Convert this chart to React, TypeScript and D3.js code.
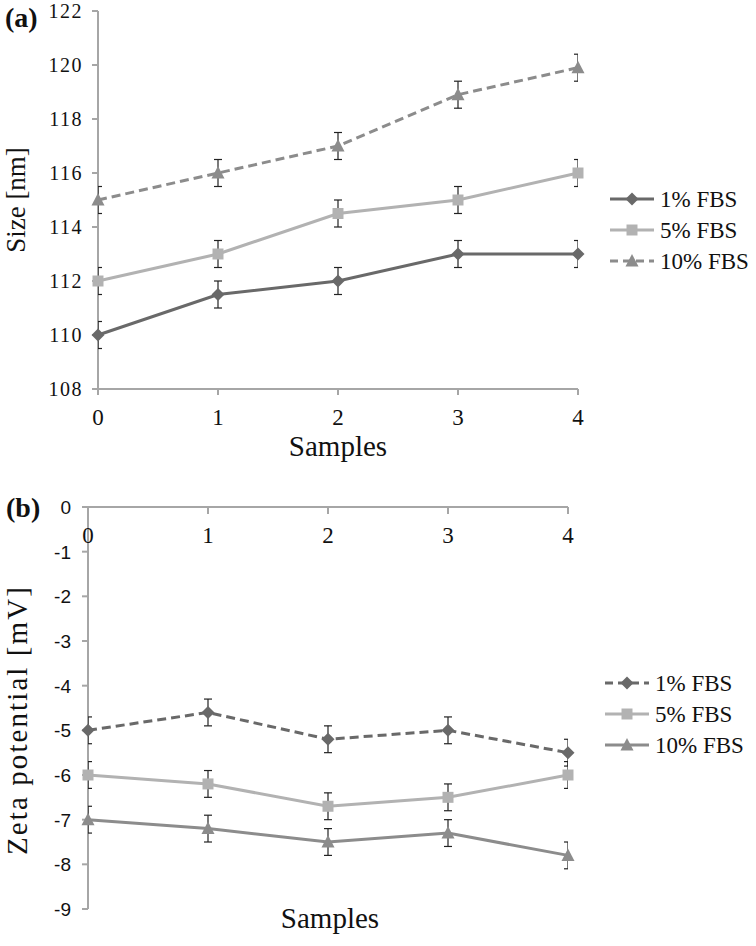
import React, { useEffect, useRef } from 'react';
import * as d3 from 'd3';

const samples = [0, 1, 2, 3, 4];
const seriesNames = ['1% FBS', '5% FBS', '10% FBS'];

// panel (a) - size in nm
const size1 = [110, 111.5, 112, 113, 113];
const size5 = [112, 113, 114.5, 115, 116];
const size10 = [115, 116, 117, 118.9, 119.9];
const sizeErr = [0.5, 0.5, 0.5, 0.5, 0.5];
const sizeTicks = [108, 110, 112, 114, 116, 118, 120, 122];

// panel (b) - zeta potential in mV
const zeta1 = [-5, -4.6, -5.2, -5, -5.5];
const zeta5 = [-6, -6.2, -6.7, -6.5, -6];
const zeta10 = [-7, -7.2, -7.5, -7.3, -7.8];
const zetaErr = [0.3, 0.3, 0.3, 0.3, 0.3];
const zetaTicks = [0, -1, -2, -3, -4, -5, -6, -7, -8, -9];

const serif = '"Liberation Serif", "Times New Roman", serif';
const sans = '"Liberation Sans", Arial, sans-serif';
const axisColor = '#a6a6a6';
const textColor = '#111';

const App = () => {
  const ref = useRef<SVGSVGElement>(null);

  useEffect(() => {
    const svg = d3.select(ref.current);
    svg.selectAll('*').remove();

    const markerPath = (shape: string) => {
      if (shape === 'diamond') return 'M0,-6.5L6.5,0L0,6.5L-6.5,0Z';
      if (shape === 'square') return 'M-5.5,-5.5H5.5V5.5H-5.5Z';
      return 'M0,-7L6.5,5.5H-6.5Z';
    };

    const drawPanel = (opts: any) => {
      const { x, y, series, err, id } = opts;
      const g = svg.append('g');

      // error bar caps get cut at the plot edges, like in the original
      g.append('defs')
        .append('clipPath')
        .attr('id', id)
        .append('rect')
        .attr('x', x(0))
        .attr('y', 0)
        .attr('width', x(4) - x(0))
        .attr('height', 946);

      series.forEach((s: any) => {
        const eg = g.append('g').attr('clip-path', `url(#${id})`);
        s.values.forEach((v: number, i: number) => {
          const cx = x(samples[i]);
          const yt = y(v + err[i]);
          const yb = y(v - err[i]);
          eg.append('line').attr('x1', cx).attr('x2', cx).attr('y1', yt).attr('y2', yb)
            .attr('stroke', '#222').attr('stroke-width', 1.2);
          [yt, yb].forEach((yy) => {
            eg.append('line').attr('x1', cx - 4).attr('x2', cx + 4).attr('y1', yy).attr('y2', yy)
              .attr('stroke', '#222').attr('stroke-width', 1.2);
          });
        });
      });

      const line = d3.line<number>().x((d, i) => x(samples[i])).y((d) => y(d));

      series.forEach((s: any) => {
        g.append('path')
          .attr('d', line(s.values))
          .attr('fill', 'none')
          .attr('stroke', s.color)
          .attr('stroke-width', 3)
          .attr('stroke-dasharray', s.dashed ? '9,5' : null);
        s.values.forEach((v: number, i: number) => {
          g.append('path')
            .attr('d', markerPath(s.shape))
            .attr('transform', `translate(${x(samples[i])},${y(v)})`)
            .attr('fill', s.color);
        });
      });

      // legend
      series.forEach((s: any, k: number) => {
        const ly = opts.legendY + k * 31;
        const lx = opts.legendX;
        g.append('line')
          .attr('x1', lx).attr('x2', lx + 44).attr('y1', ly).attr('y2', ly)
          .attr('stroke', s.color).attr('stroke-width', 3)
          .attr('stroke-dasharray', s.dashed ? '8,5' : null);
        g.append('path')
          .attr('d', markerPath(s.shape))
          .attr('transform', `translate(${lx + 22},${ly})`)
          .attr('fill', s.color);
        g.append('text')
          .attr('x', lx + 50).attr('y', ly + 8)
          .attr('font-family', serif).attr('font-size', 23).attr('fill', textColor)
          .text(s.name);
      });
    };

    // ---------- panel (a) ----------
    const xa = d3.scaleLinear().domain([0, 4]).range([98, 578]);
    const ya = d3.scaleLinear().domain([108, 122]).range([389, 11]);
    const ga = svg.append('g');
    ga.append('line').attr('x1', xa(0)).attr('x2', xa(0)).attr('y1', ya(122)).attr('y2', ya(108))
      .attr('stroke', axisColor).attr('stroke-width', 2);
    ga.append('line').attr('x1', xa(0)).attr('x2', xa(4)).attr('y1', ya(108)).attr('y2', ya(108))
      .attr('stroke', axisColor).attr('stroke-width', 2);
    sizeTicks.forEach((t) => {
      ga.append('line').attr('x1', xa(0) - 6).attr('x2', xa(0)).attr('y1', ya(t)).attr('y2', ya(t))
        .attr('stroke', axisColor).attr('stroke-width', 2);
      ga.append('text').attr('x', xa(0) - 15).attr('y', ya(t) + 7).attr('text-anchor', 'end')
        .attr('font-family', serif).attr('font-size', 20).attr('letter-spacing', 1.5)
        .attr('fill', textColor).text(t);
    });
    samples.forEach((s) => {
      ga.append('line').attr('x1', xa(s)).attr('x2', xa(s)).attr('y1', ya(108)).attr('y2', ya(108) + 6)
        .attr('stroke', axisColor).attr('stroke-width', 2);
      ga.append('text').attr('x', xa(s)).attr('y', 425).attr('text-anchor', 'middle')
        .attr('font-family', serif).attr('font-size', 23).attr('fill', textColor).text(s);
    });
    ga.append('text').attr('x', 338).attr('y', 456).attr('text-anchor', 'middle')
      .attr('font-family', serif).attr('font-size', 29).attr('fill', textColor).text('Samples');
    ga.append('text').attr('transform', 'translate(25,200) rotate(-90)').attr('text-anchor', 'middle')
      .attr('font-family', serif).attr('font-size', 27).attr('fill', textColor).text('Size [nm]');
    ga.append('text').attr('x', 5).attr('y', 27)
      .attr('font-family', serif).attr('font-size', 28).attr('font-weight', 'bold').attr('fill', textColor).text('(a)');

    drawPanel({
      id: 'clipA',
      x: xa,
      y: ya,
      err: sizeErr,
      legendX: 610,
      legendY: 199,
      series: [
        { name: seriesNames[0], values: size1, color: '#696969', shape: 'diamond', dashed: false },
        { name: seriesNames[1], values: size5, color: '#b2b2b2', shape: 'square', dashed: false },
        { name: seriesNames[2], values: size10, color: '#8c8c8c', shape: 'triangle', dashed: true },
      ],
    });

    // ---------- panel (b) ----------
    const xb = d3.scaleLinear().domain([0, 4]).range([88, 568]);
    const yb = d3.scaleLinear().domain([0, -9]).range([507, 909]);
    const gb = svg.append('g');
    gb.append('line').attr('x1', xb(0)).attr('x2', xb(0)).attr('y1', yb(0)).attr('y2', yb(-9))
      .attr('stroke', axisColor).attr('stroke-width', 2);
    gb.append('line').attr('x1', xb(0)).attr('x2', xb(4)).attr('y1', yb(0)).attr('y2', yb(0))
      .attr('stroke', axisColor).attr('stroke-width', 2);
    zetaTicks.forEach((t) => {
      gb.append('line').attr('x1', xb(0) - 6).attr('x2', xb(0)).attr('y1', yb(t)).attr('y2', yb(t))
        .attr('stroke', axisColor).attr('stroke-width', 2);
      gb.append('text').attr('x', xb(0) - 17).attr('y', yb(t) + 7).attr('text-anchor', 'end')
        .attr('font-family', sans).attr('font-size', 19).attr('fill', textColor).text(t);
    });
    samples.forEach((s) => {
      gb.append('line').attr('x1', xb(s)).attr('x2', xb(s)).attr('y1', yb(0)).attr('y2', yb(0) + 7)
        .attr('stroke', axisColor).attr('stroke-width', 2);
      gb.append('text').attr('x', xb(s)).attr('y', 543).attr('text-anchor', 'middle')
        .attr('font-family', serif).attr('font-size', 23).attr('fill', textColor).text(s);
    });
    gb.append('text').attr('x', 330).attr('y', 928).attr('text-anchor', 'middle')
      .attr('font-family', serif).attr('font-size', 29).attr('fill', textColor).text('Samples');
    gb.append('text').attr('transform', 'translate(27,721) rotate(-90)').attr('text-anchor', 'middle')
      .attr('font-family', serif).attr('font-size', 29).attr('textLength', 268).attr('lengthAdjust', 'spacing')
      .attr('fill', textColor).text('Zeta potential [mV]');
    gb.append('text').attr('x', 6).attr('y', 517)
      .attr('font-family', serif).attr('font-size', 28).attr('font-weight', 'bold').attr('fill', textColor).text('(b)');

    drawPanel({
      id: 'clipB',
      x: xb,
      y: yb,
      err: zetaErr,
      legendX: 605,
      legendY: 683,
      series: [
        { name: seriesNames[0], values: zeta1, color: '#696969', shape: 'diamond', dashed: true },
        { name: seriesNames[1], values: zeta5, color: '#b2b2b2', shape: 'square', dashed: false },
        { name: seriesNames[2], values: zeta10, color: '#8c8c8c', shape: 'triangle', dashed: false },
      ],
    });
  }, []);

  return (
    <svg ref={ref} width={756} height={946} style={{ position: 'absolute', left: 0, top: 0, background: '#fff' }} />
  );
};

export default App;
